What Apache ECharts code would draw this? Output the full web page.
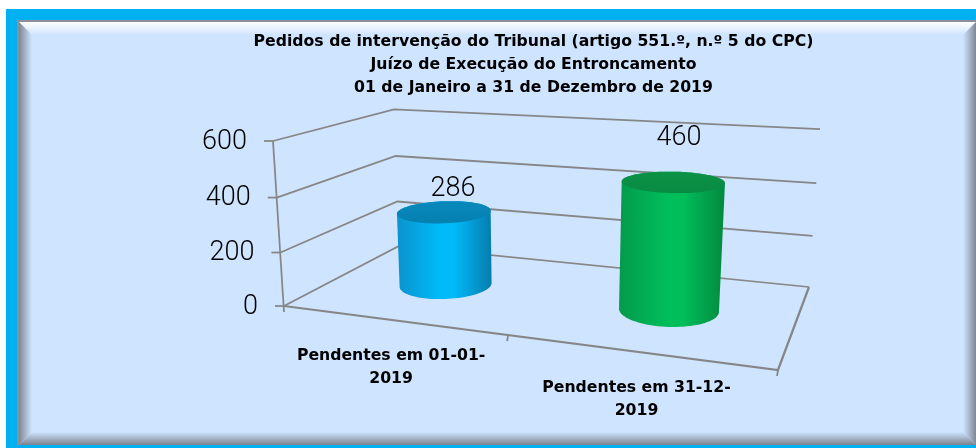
<!DOCTYPE html>
<html><head><meta charset="utf-8">
<style>html,body{margin:0;padding:0;background:#fff}#c{width:976px;height:448px}</style>
<script src="https://cdn.jsdelivr.net/npm/echarts@6/dist/echarts.min.js"></script>
</head><body><div id="c"></div>
<script>
const titleLines = ['Pedidos de intervenção do Tribunal (artigo 551.º, n.º 5 do CPC)','Juízo de Execução do Entroncamento','01 de Janeiro a 31 de Dezembro de 2019'];
const categories = ['Pendentes em 01-01-\n2019','Pendentes em 31-12-\n2019'];
const values = [286,460];
const valueTicks = [0,200,400,600];
const barColors = [
  {edgeL:'#0A93CC',mid:'#00BBFA',edgeR:'#067CAE',top:'#0A89BC',topIn:'#0480B0'},
  {edgeL:'#049A4C',mid:'#00BE5A',edgeR:'#03893F',top:'#0C9347',topIn:'#088A42'}
];
const LABEL_FONT='Roboto', TITLE_FONT='DejaVu Sans', GREY='#868686';

// Perspective camera: the floor's corners and one point per edge of the box
const FL=[284,306],FR=[778,370],BR=[809,287],BL=[399,246],FLtop=[273,141],BRtopX=820;
const cam=(()=>{
  const dx1=FR[0]-BR[0],dx2=BL[0]-BR[0],sx=FL[0]-FR[0]+BR[0]-BL[0];
  const dy1=FR[1]-BR[1],dy2=BL[1]-BR[1],sy=FL[1]-FR[1]+BR[1]-BL[1];
  const det=dx1*dy2-dx2*dy1;
  const g=(sx*dy2-dx2*sy)/det,h=(dx1*sy-sx*dy1)/det;
  const a=FR[0]-FL[0]+g*FR[0],b=BL[0]-FL[0]+h*BL[0],c=FL[0];
  const d=FR[1]-FL[1]+g*FR[1],e=BL[1]-FL[1]+h*BL[1],f=FL[1];
  const D=1+g+h;
  const r=(BR[0]*D+FLtop[0]-c-BRtopX*D)/(BRtopX-FLtop[0]);
  const p=FLtop[0]*(1+r)-c,q=FLtop[1]*(1+r)-f;
  return {a,b,c,d,e,f,g,h,p,q,r};
})();
function proj(x,y,z){const m=cam,w=m.g*x+m.h*z+m.r*y+1;
  return [(m.a*x+m.b*z+m.p*y+m.c)/w,(m.d*x+m.e*z+m.q*y+m.f)/w];}
function norm(params,api,pt){const s=params.coordSys;return [(pt[0]-s.x)/s.width,(s.y+s.height-pt[1])/s.height];}
function hull(pts){const P=pts.slice().sort((A,B)=>A[0]-B[0]||A[1]-B[1]);
  const cr=(o,A,B)=>(A[0]-o[0])*(B[1]-o[1])-(A[1]-o[1])*(B[0]-o[0]);
  const lo=[],up=[];
  for(const q of P){while(lo.length>1&&cr(lo[lo.length-2],lo[lo.length-1],q)<=0)lo.pop();lo.push(q);}
  for(const q of P.slice().reverse()){while(up.length>1&&cr(up[up.length-2],up[up.length-1],q)<=0)up.pop();up.push(q);}
  return lo.slice(0,-1).concat(up.slice(0,-1));}
const pl=(pts,w)=>({type:'polyline',shape:{points:pts},style:{stroke:GREY,lineWidth:w||1.75,fill:null},silent:true});
const numStyle={fill:'#000',fontSize:27,fontFamily:LABEL_FONT,fontWeight:300,verticalAlign:'middle'};

function renderValueTick(params,api){
  const v=api.value(1);const y=norm(params,api,api.coord([0,v]))[1];
  const f=proj(0,y,0),b=proj(0,y,1),r=proj(1,y,1);
  return {type:'group',children:[
    pl([f,b,r]),
    pl([[f[0]-9,f[1]],f]),
    {type:'text',style:Object.assign({text:String(v),x:f[0]-26,y:f[1]+1,align:'right'},numStyle)}
  ]};
}
function renderFrame(params,api){
  const ends=[proj(0,1,0),proj(0,0,0)];
  return {type:'group',children:[
    pl([ends[0],[ends[1][0],ends[1][1]+6]]),
    pl([proj(0,0,0),proj(1,0,0),proj(1,0,1)],2.25)
  ]};
}
function renderCategory(params,api){
  const i=api.value(0);
  const c=norm(params,api,api.coord([i,0]))[0];
  const band=api.size([1,0])[0]/params.coordSys.width;
  const tickEnd=c+band/2, p=proj(tickEnd,0,0), lab=proj(c,0,0);
  const kids=[pl([p,[p[0]-1,p[1]+6]]),
    {type:'text',style:{text:categories[i],x:lab[0],y:lab[1]+25,align:'center',verticalAlign:'top',lineHeight:23,fill:'#000',fontSize:15.7,fontWeight:'bold',fontFamily:TITLE_FONT}}];
  return {type:'group',children:kids};
}
const labelNudge=[[9,-23],[6,-44]];
function renderCylinder(params,api){
  const i=api.value(0),v=api.value(1);
  const n0=norm(params,api,api.coord([i,v]));
  const cx=n0[0],h=n0[1],RX=.1,RZ=.21,N=90;
  const ring=y=>{const o=[];for(let k=0;k<N;k++){const t=k/N*2*Math.PI;o.push(proj(cx+RX*Math.cos(t),y,.5+RZ*Math.sin(t)));}return o;};
  const bot=ring(0),top=ring(h);
  const all=bot.concat(top),xs=all.map(q=>q[0]);
  const x0=Math.min(...xs),x1=Math.max(...xs);
  const col=barColors[i];
  const body=new echarts.graphic.LinearGradient(x0,0,x1,0,[
    {offset:0,color:col.edgeL},{offset:.45,color:col.mid},{offset:.6,color:col.mid},{offset:1,color:col.edgeR}],true);
  const tc=proj(cx,h,.5);
  const topFill=new echarts.graphic.LinearGradient(0,top.reduce((m,q)=>Math.min(m,q[1]),1e9),0,top.reduce((m,q)=>Math.max(m,q[1]),0),[
    {offset:0,color:col.top},{offset:1,color:col.topIn}],true);
  const nudge=labelNudge[i];
  return {type:'group',children:[
    {type:'polygon',shape:{points:hull(all)},style:{fill:body,stroke:null}},
    {type:'polygon',shape:{points:top},style:{fill:topFill,stroke:null}},
    {type:'text',style:Object.assign({text:String(v),x:tc[0]+nudge[0],y:tc[1]+nudge[1],align:'center'},numStyle)}
  ]};
}
const grad=(x0,y0,x1,y1,a,b)=>new echarts.graphic.LinearGradient(x0,y0,x1,y1,[{offset:0,color:a},{offset:1,color:b}],true);
const PL=19,PT=22,PR=976,PB=445,BW=13,PANEL='#CFE4FF';
const frame=[
  {type:'rect',shape:{x:6,y:9,width:970,height:439},style:{fill:'#00B0F0'},z:-10},
  {type:'rect',shape:{x:17,y:20,width:959,height:425},style:{fill:'#8A8F98'},z:-10},
  {type:'rect',shape:{x:PL,y:PT,width:PR-PL,height:PB-PT-1},style:{fill:PANEL},z:-10},
  {type:'polygon',shape:{points:[[PL,PT],[PR,PT],[PR-BW,PT+BW],[PL+BW,PT+BW]]},style:{fill:grad(0,PT,0,PT+BW,'#FFFFFF',PANEL)},z:-9},
  {type:'polygon',shape:{points:[[PL,PT],[PL+BW,PT+BW],[PL+BW,PB-BW],[PL,PB]]},style:{fill:grad(PL,0,PL+BW,0,'#7F8794',PANEL)},z:-9},
  {type:'polygon',shape:{points:[[PR,PT],[PR-BW,PT+BW],[PR-BW,PB-BW],[PR,PB]]},style:{fill:grad(PR,0,PR-BW,0,'#7F8794',PANEL)},z:-9},
  {type:'polygon',shape:{points:[[PL,PB],[PL+BW,PB-BW],[PR-BW,PB-BW],[PR,PB]]},style:{fill:grad(0,PB,0,PB-BW,'#7A828F',PANEL)},z:-9}
];
const chart=echarts.init(document.getElementById('c'),null,{renderer:'canvas'});
chart.setOption({
  animation:false,backgroundColor:'#fff',
  title:{text:titleLines.join('\n'),left:528.5,top:25,textAlign:'center',
    textStyle:{fontFamily:TITLE_FONT,fontWeight:'bold',fontSize:15.7,lineHeight:23,color:'#000'}},
  graphic:frame,
  grid:{left:100,right:100,top:100,bottom:100},
  xAxis:{type:'category',data:categories,show:false},
  yAxis:{type:'value',min:0,max:600,interval:200,show:false},
  series:[
    {type:'custom',name:'ticks',coordinateSystem:'cartesian2d',data:valueTicks.map(v=>[0,v]),encode:{x:0,y:1},renderItem:renderValueTick,silent:true,clip:false,z:2},
    {type:'custom',name:'frame',coordinateSystem:'cartesian2d',data:[[0,0]],encode:{x:0,y:1},renderItem:renderFrame,silent:true,clip:false,z:2},
    {type:'custom',name:'cats',coordinateSystem:'cartesian2d',data:categories.map((c,i)=>[i,0]),encode:{x:0,y:1},renderItem:renderCategory,silent:true,clip:false,z:2},
    {type:'custom',name:'Pendentes',coordinateSystem:'cartesian2d',data:values.map((v,i)=>[i,v]),encode:{x:0,y:1},renderItem:renderCylinder,clip:false,z:3}
  ]
});
</script></body></html>
